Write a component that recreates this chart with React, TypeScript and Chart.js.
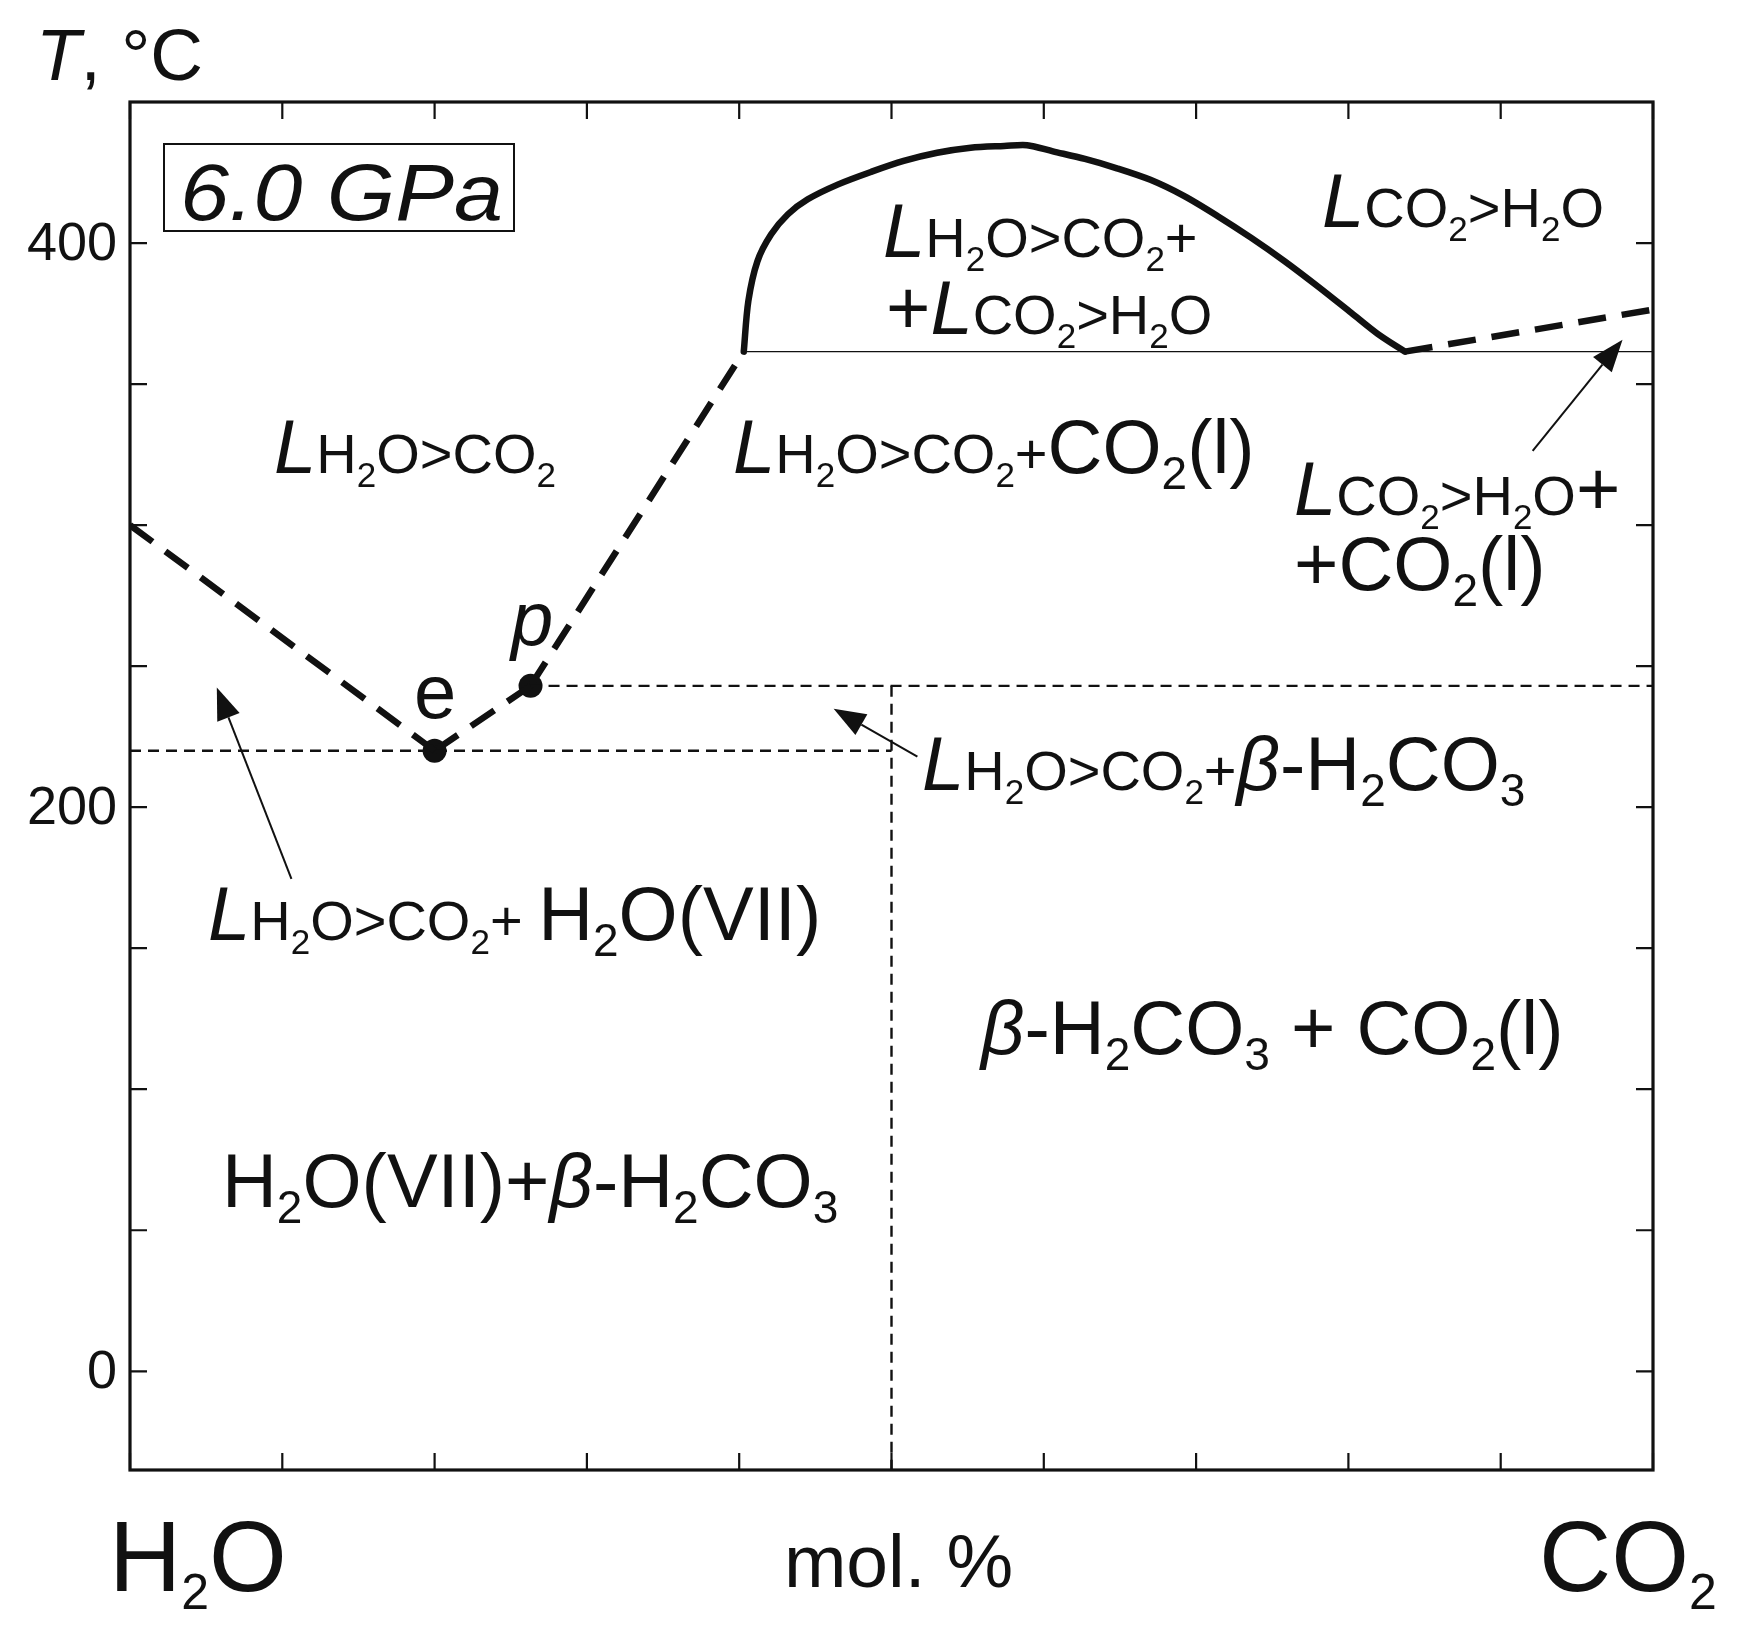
import React, { useEffect, useRef } from "react";
import { Chart, registerables } from "chart.js";

Chart.register(...registerables);

// ---------- axes ----------
const X_MIN = 0;
const X_MAX = 100;
const T_MIN = -35;
const T_MAX = 450;
const xTickValues = [0, 10, 20, 30, 40, 50, 60, 70, 80, 90, 100];
const tTickValues = [0, 50, 100, 150, 200, 250, 300, 350, 400];
const tTickLabels = [0, 200, 400];

// ---------- phase boundaries (x = mol.% CO2, T = °C) ----------
const h2oLiquidusX = [0, 20];
const h2oLiquidusT = [300, 220];
const eToPX = [20, 26.3];
const eToPT = [220, 243];
const h2co3LiquidusX = [26.3, 40.3];
const h2co3LiquidusT = [243, 361.5];
const solvusX = [40.3, 40.6, 41.2, 42.1, 43.2, 44.5, 46.5, 48.7, 50.8, 53.0, 55.2, 57.4, 58.9, 60.6, 62.7, 64.8, 67.0, 69.2, 71.4, 73.6, 75.8, 78.0, 80.2, 81.9, 83.7];
const solvusT = [361.5, 379.4, 393.6, 403.1, 410.2, 415.5, 420.8, 425.3, 429.1, 432.0, 433.8, 434.4, 434.7, 432.5, 429.8, 426.5, 422.4, 416.7, 409.6, 401.9, 393.6, 384.6, 375.2, 367.9, 361.5];
const co2LiquidusX = [83.7, 100];
const co2LiquidusT = [361.5, 376.4];
const monotecticX = [40.3, 100];
const monotecticT = [361.5, 361.5];
const peritecticIsoX = [26.3, 100];
const peritecticIsoT = [243, 243];
const eutecticIsoX = [0, 50];
const eutecticIsoT = [220, 220];
const h2co3LineX = [50, 50];
const h2co3LineT = [243, -35];
const invariantX = [20, 26.3];
const invariantT = [220, 243];

// ---------- arrows ----------
const arrowTailX = [10.6, 51.7, 92.1];
const arrowTailT = [174.6, 217.9, 326.3];
const arrowHeadX = [5.7, 46.2, 98.0];
const arrowHeadT = [242.4, 234.9, 365.7];

// ---------- field labels ----------
type Kind = "L" | "s" | "ss" | "b" | "bi" | "bs";
type Run = [string, Kind];
const fieldLabelRuns: Run[][] = [
  [["L", "L"], ["H", "s"], ["2", "ss"], ["O>CO", "s"], ["2", "ss"]],
  [["L", "L"], ["H", "s"], ["2", "ss"], ["O>CO", "s"], ["2", "ss"], ["+", "s"]],
  [["+", "b"], ["L", "L"], ["CO", "s"], ["2", "ss"], [">H", "s"], ["2", "ss"], ["O", "s"]],
  [["L", "L"], ["CO", "s"], ["2", "ss"], [">H", "s"], ["2", "ss"], ["O", "s"]],
  [["L", "L"], ["H", "s"], ["2", "ss"], ["O>CO", "s"], ["2", "ss"], ["+", "s"], ["CO", "b"], ["2", "bs"], ["(l)", "b"]],
  [["L", "L"], ["CO", "s"], ["2", "ss"], [">H", "s"], ["2", "ss"], ["O", "s"], ["+", "b"]],
  [["+CO", "b"], ["2", "bs"], ["(l)", "b"]],
  [["p", "bi"]],
  [["e", "b"]],
  [["L", "L"], ["H", "s"], ["2", "ss"], ["O>CO", "s"], ["2", "ss"], ["+", "s"], ["β", "bi"], ["-H", "b"], ["2", "bs"], ["CO", "b"], ["3", "bs"]],
  [["L", "L"], ["H", "s"], ["2", "ss"], ["O>CO", "s"], ["2", "ss"], ["+ ", "s"], ["H", "b"], ["2", "bs"], ["O(VII)", "b"]],
  [["β", "bi"], ["-H", "b"], ["2", "bs"], ["CO", "b"], ["3", "bs"], [" + CO", "b"], ["2", "bs"], ["(l)", "b"]],
  [["H", "b"], ["2", "bs"], ["O(VII)+", "b"], ["β", "bi"], ["-H", "b"], ["2", "bs"], ["CO", "b"], ["3", "bs"]],
];
const fieldLabelX = [9.46, 49.44, 49.64, 78.27, 39.59, 76.43, 76.43, 25.02, 18.65, 52.0, 5.12, 55.88, 6.04];
const fieldLabelT = [318.4, 395.0, 367.7, 405.7, 318.4, 303.5, 276.9, 257.4, 231.6, 206.0, 152.8, 112.4, 58.2];

const FONT = "'Liberation Sans', Arial, Helvetica, sans-serif";
const STY: Record<Kind, { size: number; italic: boolean; dy: number }> = {
  L: { size: 76, italic: true, dy: 0 },
  s: { size: 56, italic: false, dy: 0 },
  ss: { size: 35, italic: false, dy: 14 },
  b: { size: 76, italic: false, dy: 0 },
  bi: { size: 76, italic: true, dy: 0 },
  bs: { size: 46, italic: false, dy: 16 },
};

function drawRuns(ctx: CanvasRenderingContext2D, runs: Run[], x: number, y: number) {
  let cx = x;
  ctx.textAlign = "left";
  ctx.textBaseline = "alphabetic";
  for (const [t, k] of runs) {
    const s = STY[k];
    ctx.font = `${s.italic ? "italic " : ""}${s.size}px ${FONT}`;
    ctx.fillText(t, cx, y + s.dy);
    cx += ctx.measureText(t).width;
  }
}

function drawArrow(ctx: CanvasRenderingContext2D, x1: number, y1: number, x2: number, y2: number) {
  const ang = Math.atan2(y2 - y1, x2 - x1);
  const hl = 32;
  const hw = 12;
  const bx = x2 - hl * Math.cos(ang);
  const by = y2 - hl * Math.sin(ang);
  ctx.lineWidth = 2;
  ctx.setLineDash([]);
  ctx.beginPath();
  ctx.moveTo(x1, y1);
  ctx.lineTo(bx, by);
  ctx.stroke();
  ctx.beginPath();
  ctx.moveTo(x2, y2);
  ctx.lineTo(bx + hw * Math.sin(ang), by - hw * Math.cos(ang));
  ctx.lineTo(bx - hw * Math.sin(ang), by + hw * Math.cos(ang));
  ctx.closePath();
  ctx.fill();
}

const decorPlugin = {
  id: "phaseDecor",
  afterDraw(chart: any) {
    const ctx: CanvasRenderingContext2D = chart.ctx;
    const xs = chart.scales.x;
    const ys = chart.scales.y;
    const { left, right, top, bottom } = chart.chartArea;
    ctx.save();
    ctx.fillStyle = "#111";
    ctx.strokeStyle = "#111";
    ctx.setLineDash([]);

    // ticks (inward on all sides)
    ctx.lineWidth = 2.2;
    const tl = 17;
    for (const v of xTickValues) {
      const px = xs.getPixelForValue(v);
      ctx.beginPath();
      ctx.moveTo(px, bottom);
      ctx.lineTo(px, bottom - tl);
      ctx.moveTo(px, top);
      ctx.lineTo(px, top + tl);
      ctx.stroke();
    }
    for (const v of tTickValues) {
      const py = ys.getPixelForValue(v);
      ctx.beginPath();
      ctx.moveTo(left, py);
      ctx.lineTo(left + tl, py);
      ctx.moveTo(right, py);
      ctx.lineTo(right - tl, py);
      ctx.stroke();
    }
    // frame
    ctx.lineWidth = 3.2;
    ctx.strokeRect(left, top, right - left, bottom - top);

    // y tick labels
    ctx.font = `54px ${FONT}`;
    ctx.textAlign = "right";
    ctx.textBaseline = "middle";
    for (const v of tTickLabels) {
      ctx.fillText(String(v), left - 13, ys.getPixelForValue(v) + 2);
    }

    // axis title T, °C
    ctx.textAlign = "left";
    ctx.textBaseline = "alphabetic";
    ctx.font = `italic 73px ${FONT}`;
    ctx.fillText("T", left - 94, top - 22);
    const tw = ctx.measureText("T").width;
    ctx.font = `73px ${FONT}`;
    ctx.fillText(", °C", left - 94 + tw, top - 22);

    // pressure box
    ctx.lineWidth = 2;
    ctx.strokeRect(left + 34, top + 42, 350, 87);
    ctx.save();
    ctx.translate(left + 50, top + 118);
    ctx.scale(1.1, 1);
    ctx.font = `italic 80px ${FONT}`;
    ctx.fillText("6.0 GPa", 0, 0);
    ctx.restore();

    // bottom labels
    const base = bottom + 121;
    ctx.font = `100px ${FONT}`;
    let cx = left - 21;
    ctx.fillText("H", cx, base);
    cx += ctx.measureText("H").width;
    ctx.font = `50px ${FONT}`;
    ctx.fillText("2", cx, base + 18);
    cx += ctx.measureText("2").width;
    ctx.font = `100px ${FONT}`;
    ctx.fillText("O", cx, base);

    cx = right - 114;
    ctx.fillText("CO", cx, base);
    cx += ctx.measureText("CO").width;
    ctx.font = `50px ${FONT}`;
    ctx.fillText("2", cx, base + 18);

    ctx.font = `75px ${FONT}`;
    ctx.textAlign = "center";
    ctx.fillText("mol. %", xs.getPixelForValue(50) + 7, bottom + 117);

    // field labels
    fieldLabelRuns.forEach((runs, i) => {
      drawRuns(ctx, runs, xs.getPixelForValue(fieldLabelX[i]), ys.getPixelForValue(fieldLabelT[i]));
    });

    // arrows
    for (let i = 0; i < arrowTailX.length; i++) {
      drawArrow(
        ctx,
        xs.getPixelForValue(arrowTailX[i]),
        ys.getPixelForValue(arrowTailT[i]),
        xs.getPixelForValue(arrowHeadX[i]),
        ys.getPixelForValue(arrowHeadT[i])
      );
    }
    ctx.restore();
  },
};

function pts(xa: number[], ta: number[]) {
  return xa.map((x, i) => ({ x, y: ta[i] }));
}

export default function App() {
  const ref = useRef<HTMLCanvasElement | null>(null);
  useEffect(() => {
    if (!ref.current) return;
    const black = "#111";
    const thickDash = [28, 16];
    const thinDash = [11, 7];
    const line = (xa: number[], ta: number[], w: number, dash: number[], extra: any = {}) => ({
      data: pts(xa, ta),
      showLine: true,
      borderColor: black,
      borderWidth: w,
      borderDash: dash,
      pointRadius: 0,
      fill: false,
      tension: 0,
      ...extra,
    });
    const chart = new Chart(ref.current, {
      type: "scatter",
      data: {
        datasets: [
          line(eutecticIsoX, eutecticIsoT, 2.4, thinDash),
          line(peritecticIsoX, peritecticIsoT, 2.4, thinDash),
          line(h2co3LineX, h2co3LineT, 2.4, thinDash),
          line(monotecticX, monotecticT, 1.4, []),
          line(h2oLiquidusX, h2oLiquidusT, 6.5, thickDash),
          line(eToPX, eToPT, 6.5, thickDash),
          line(h2co3LiquidusX, h2co3LiquidusT, 6.5, thickDash),
          line(co2LiquidusX, co2LiquidusT, 6.5, thickDash),
          line(solvusX, solvusT, 6.5, [], { tension: 0.3, borderJoinStyle: "round", borderCapStyle: "round" }),
          {
            data: pts(invariantX, invariantT),
            showLine: false,
            pointRadius: 12,
            pointBackgroundColor: black,
            pointBorderWidth: 0,
            pointBorderColor: black,
          },
        ],
      },
      options: {
        animation: false,
        responsive: false,
        maintainAspectRatio: false,
        layout: { padding: { left: 130, top: 102, right: 89, bottom: 174 } },
        plugins: { legend: { display: false }, tooltip: { enabled: false }, title: { display: false } },
        scales: {
          x: { type: "linear", min: X_MIN, max: X_MAX, display: false },
          y: { type: "linear", min: T_MIN, max: T_MAX, display: false },
        },
        events: [],
      },
      plugins: [decorPlugin],
    } as any);
    return () => chart.destroy();
  }, []);
  return (
    <div style={{ position: "fixed", left: 0, top: 0, width: 1742, height: 1644, background: "#fff" }}>
      <canvas ref={ref} width={1742} height={1644} style={{ width: 1742, height: 1644 }} />
    </div>
  );
}
